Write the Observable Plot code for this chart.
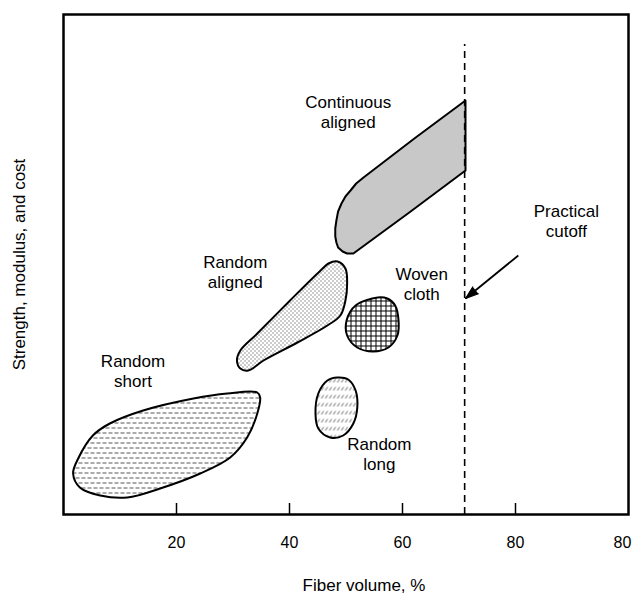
<!DOCTYPE html>
<html>
<head>
<meta charset="utf-8">
<script src="https://cdn.jsdelivr.net/npm/d3@7"></script>
<script src="https://cdn.jsdelivr.net/npm/@observablehq/plot@0.6"></script>
<style>
  html, body { margin: 0; padding: 0; background: #fff; }
  svg { display: block; }
</style>
</head>
<body>
<div id="chart"></div>
<script>
// ---- Data (x = fiber volume %, y = relative strength/modulus/cost, 0–100) ----
const tickValues = [20, 40, 60, 80, 100];
const tickLabels = ["20", "40", "60", "80", "80"];
const cutoff = 71;
const cutoffTop = 94;

const contX = [71.15, 62.1, 53.1, 51.8, 50.8, 49.9, 49.2, 48.6, 48.3, 48.1, 48.1, 48.3, 48.6, 49.4, 50.2, 51.3, 61.2, 71.15];
const contY = [82.8, 75.2, 67.4, 66.2, 64.8, 63.6, 62.2, 60.6, 58.8, 57.2, 55.6, 54.4, 53.4, 52.6, 52.2, 52.2, 60.4, 68.8];

const raX = [48.5, 49.9, 50.2, 49.9, 49.0, 46.7, 41.4, 35.4, 32.7, 31.3, 30.7, 31.3, 34.3, 40.1, 45.5, 46.9];
const raY = [50.6, 49.2, 46.2, 42.8, 39.8, 37.8, 34.4, 30.8, 28.8, 29.2, 30.8, 32.8, 36.2, 42.8, 48.8, 50.2];

const wovenX = [55.6, 51.7, 50.1, 50.2, 52.0, 54.8, 57.5, 59.1, 59.3, 58.7, 57.3];
const wovenY = [43.4, 41.8, 38.8, 35.8, 33.4, 32.6, 33.4, 35.8, 38.8, 41.8, 43.2];

const longX = [48.5, 46.7, 45.1, 44.6, 45.1, 47.2, 49.5, 51.3, 52.0, 51.7, 50.4];
const longY = [27.4, 26.8, 24.2, 20.2, 17.2, 15.4, 15.8, 18.2, 21.4, 24.8, 27.0];

const shortX = [34.3, 34.8, 34.3, 32.5, 29.5, 24.2, 17.1, 11.3, 6.5, 2.9, 1.7, 2.6, 5.2, 8.2, 14.1, 23.0, 29.0];
const shortY = [24.4, 23.4, 20.2, 15.4, 11.4, 8.2, 5.2, 3.4, 3.8, 5.4, 8.2, 11.2, 15.8, 18.2, 20.8, 23.2, 24.2];

const labelText = ["Continuous\naligned", "Random\naligned", "Woven\ncloth", "Random\nshort", "Random\nlong", "Practical\ncutoff"];
const labelX = [50.4, 30.4, 63.4, 12.3, 55.9, 89.0];
const labelY = [80.6, 48.6, 46.2, 28.8, 12.2, 58.8];

const arrowFrom = [80.5, 51.8];
const arrowTo = [71.15, 43.2];

const xTitle = "Fiber volume, %";
const yTitle = "Strength, modulus, and cost";

// ---- build tables ----
const pts = (xs, ys) => xs.map((x, i) => ({x, y: ys[i]}));
const labels = labelText.map((t, i) => ({t, x: labelX[i], y: labelY[i]}));
const fmt = d => tickLabels[tickValues.indexOf(d)];

const blob = (xs, ys, pattern, curve = "catmull-rom-closed") => Plot.line(pts(xs, ys), {
  x: "x", y: "y", curve,
  fill: `url(#${pattern})`, stroke: "black", strokeWidth: 2, strokeLinejoin: "round"
});

const font = "'Liberation Sans', Arial, Helvetica, sans-serif";

const svg = Plot.plot({
  width: 634,
  height: 596,
  marginLeft: 63,
  marginRight: 6,
  marginTop: 14,
  marginBottom: 82,
  style: {fontFamily: font, background: "white", color: "black"},
  x: {domain: [0, 100]},
  y: {domain: [0, 100], axis: null},
  marks: [
    blob(shortX, shortY, "pShort"),
    blob(longX, longY, "pLong"),
    blob(wovenX, wovenY, "pWoven"),
    blob(raX, raY, "pRA"),
    blob(contX, contY, "pCont", "linear-closed"),
    Plot.ruleX([cutoff], {y1: 0, y2: cutoffTop, strokeDasharray: "7,5", strokeWidth: 1.6}),
    Plot.link([{x1: arrowFrom[0], y1: arrowFrom[1], x2: arrowTo[0], y2: arrowTo[1]}], {
      x1: "x1", y1: "y1", x2: "x2", y2: "y2", strokeWidth: 1.8
    }),
    Plot.vector([{x: arrowTo[0], y: arrowTo[1]}], {
      x: "x", y: "y", length: 13, rotate: 231, shape: "spike", anchor: "end", r: 4.5,
      fill: "black", stroke: "black", strokeWidth: 1
    }),
    Plot.text(labels, {x: "x", y: "y", text: "t", fontSize: 17, lineHeight: 1.2}),
    Plot.ruleX(tickValues.slice(0, 4), {y1: 0, y2: 2.2, strokeWidth: 1.5}),
    Plot.axisX({ticks: tickValues.slice(0, 4), tickFormat: fmt, tickSize: 0, tickPadding: 22, fontSize: 16, label: null}),
    Plot.axisX({ticks: tickValues.slice(4), tickFormat: fmt, tickSize: 0, tickPadding: 22, fontSize: 16, label: null, dx: -6}),
    Plot.text([xTitle], {frameAnchor: "bottom", textAnchor: "middle", lineAnchor: "middle", dx: 18, dy: 71, fontSize: 17}),
    Plot.text([yTitle], {frameAnchor: "left", textAnchor: "middle", lineAnchor: "middle", dx: -44, rotate: -90, fontSize: 17}),
    Plot.frame({strokeWidth: 2.5})
  ]
});

d3.select(svg).insert("defs", ":first-child").html(`
  <pattern id="pCont" width="2" height="2" patternUnits="userSpaceOnUse">
    <rect width="2" height="2" fill="white"/>
    <rect x="0" y="0" width="1" height="1" fill="#222"/>
  </pattern>
  <pattern id="pRA" width="4" height="4" patternUnits="userSpaceOnUse">
    <rect width="4" height="4" fill="white"/>
    <rect x="0" y="0" width="1" height="1" fill="#333"/>
    <rect x="2" y="2" width="1" height="1" fill="#333"/>
  </pattern>
  <pattern id="pWoven" width="5" height="5" patternUnits="userSpaceOnUse">
    <rect width="5" height="5" fill="white"/>
    <rect x="0" y="0" width="5" height="1" fill="#000"/>
    <rect x="0" y="0" width="1" height="5" fill="#000"/>
  </pattern>
  <pattern id="pLong" width="4" height="8" patternUnits="userSpaceOnUse">
    <rect width="4" height="8" fill="white"/>
    <line x1="0.8" y1="6" x2="3.2" y2="2.5" stroke="#555" stroke-width="0.9"/>
  </pattern>
  <pattern id="pShort" width="6" height="10" patternUnits="userSpaceOnUse">
    <rect width="6" height="10" fill="white"/>
    <rect x="0" y="2" width="4" height="1" fill="#555"/>
    <rect x="3" y="7" width="3" height="1" fill="#555"/>
    <rect x="0" y="7" width="1" height="1" fill="#555"/>
  </pattern>
`);

document.getElementById("chart").appendChild(svg);
</script>
</body>
</html>
